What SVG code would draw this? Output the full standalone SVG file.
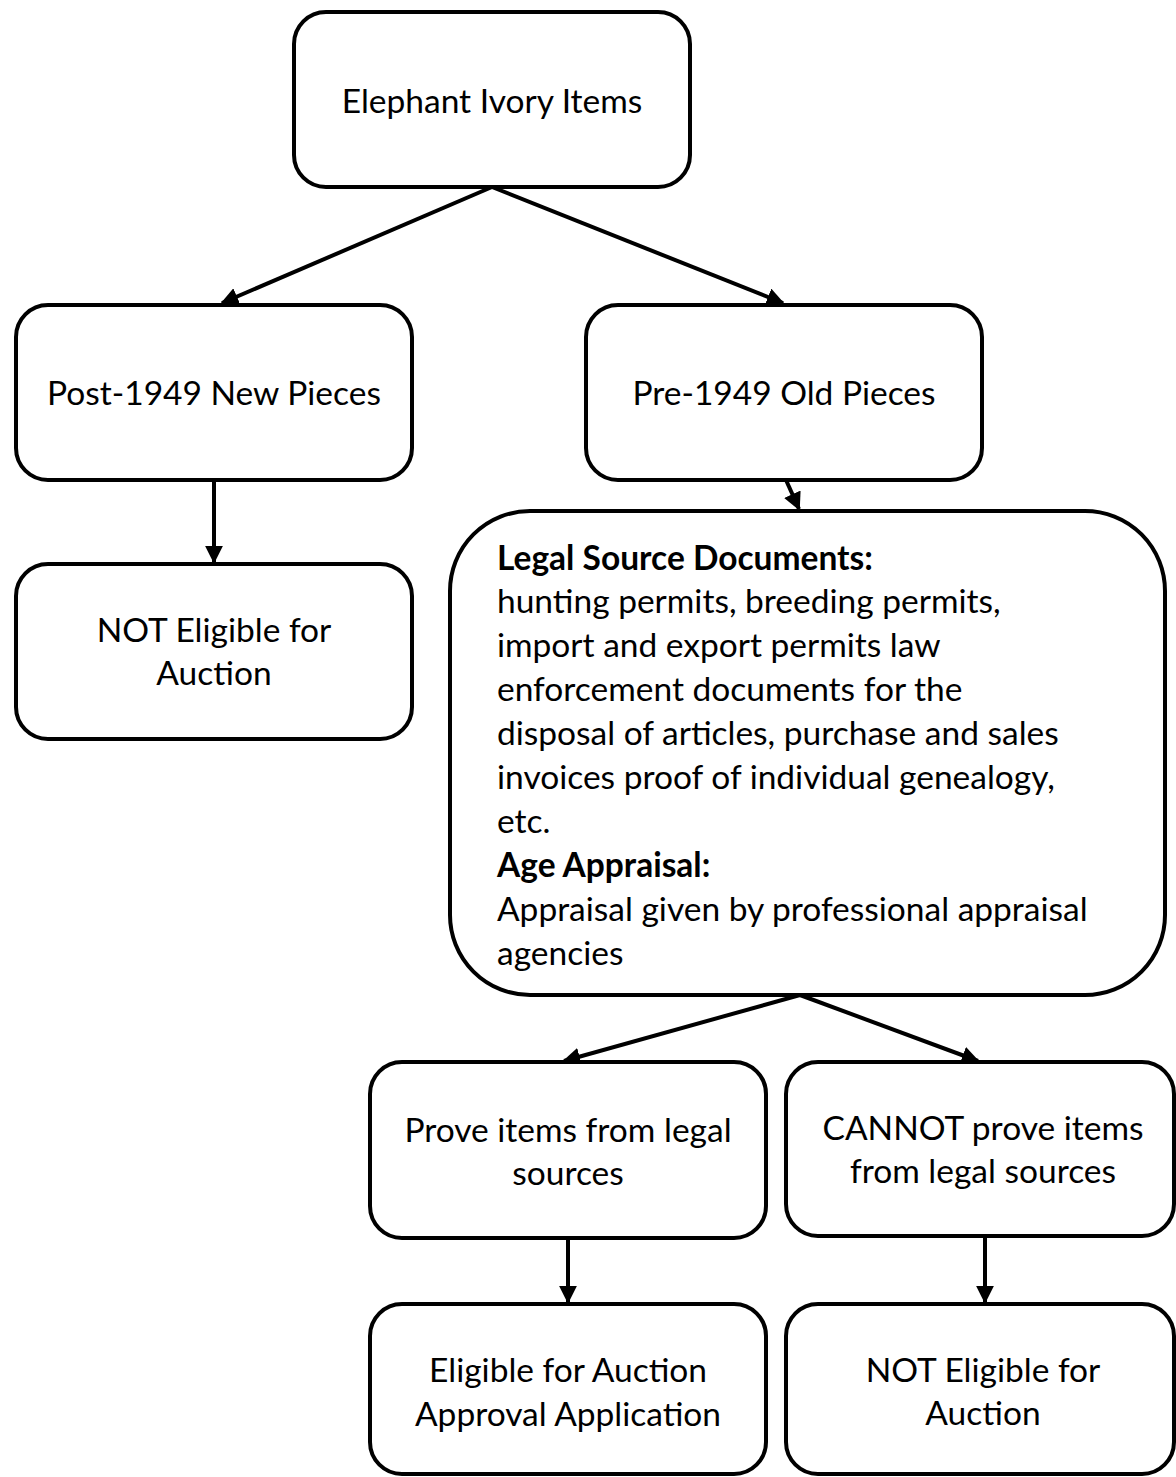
<svg xmlns="http://www.w3.org/2000/svg" width="1176" height="1477" viewBox="0 0 1176 1477">
<style>
.box{fill:#fff;stroke:#000;stroke-width:4}
.t{font-family:Lato,"Open Sans","Liberation Sans",sans-serif;font-size:33.5px;fill:#000}
.c{text-anchor:middle}
.b{font-weight:bold}
.ln{stroke:#000;stroke-width:4;fill:none}
</style>
<defs>
<marker id="ah" viewBox="0 0 10 10" refX="9" refY="5" markerWidth="4.5" markerHeight="4.5" orient="auto" markerUnits="strokeWidth">
<path d="M0,0 L10,5 L0,10 z" fill="#000"/>
</marker>
</defs>
<rect width="1176" height="1477" fill="#fff"/>
<g id="connectors">
<line class="ln" x1="492" y1="187" x2="222" y2="303" marker-end="url(#ah)"/>
<line class="ln" x1="492" y1="187" x2="783" y2="303" marker-end="url(#ah)"/>
<line class="ln" x1="214" y1="480" x2="214" y2="562" marker-end="url(#ah)"/>
<line class="ln" x1="786" y1="480" x2="799" y2="509" marker-end="url(#ah)"/>
<line class="ln" x1="800" y1="995" x2="564" y2="1061" marker-end="url(#ah)"/>
<line class="ln" x1="800" y1="995" x2="978" y2="1061" marker-end="url(#ah)"/>
<line class="ln" x1="568" y1="1238" x2="568" y2="1302" marker-end="url(#ah)"/>
<line class="ln" x1="985" y1="1238" x2="985" y2="1302" marker-end="url(#ah)"/>
</g>
<g id="n1"><rect class="box" x="294" y="12" width="396" height="175" rx="32"/><text class="t c" x="492" y="113">Elephant Ivory Items</text></g>
<g id="n2"><rect class="box" x="16" y="305" width="396" height="175" rx="32"/><text class="t c" x="214" y="405">Post-1949 New Pieces</text></g>
<g id="n3"><rect class="box" x="586" y="305" width="396" height="175" rx="32"/><text class="t c" x="784" y="405">Pre-1949 Old Pieces</text></g>
<g id="n4"><rect class="box" x="16" y="564" width="396" height="175" rx="32"/><text class="t c" x="214" y="642">NOT Eligible for</text><text class="t c" x="214" y="685">Auction</text></g>
<g id="n5"><rect class="box" x="450" y="511" width="715" height="484" rx="80"/>
<text class="t b" x="497" y="570">Legal Source Documents:</text>
<text class="t" x="497" y="613">hunting permits, breeding permits,</text>
<text class="t" x="497" y="657">import and export permits law</text>
<text class="t" x="497" y="701">enforcement documents for the</text>
<text class="t" x="497" y="745">disposal of articles, purchase and sales</text>
<text class="t" x="497" y="789">invoices proof of individual genealogy,</text>
<text class="t" x="497" y="833">etc.</text>
<text class="t b" x="497" y="877">Age Appraisal:</text>
<text class="t" x="497" y="921">Appraisal given by professional appraisal</text>
<text class="t" x="497" y="965">agencies</text>
</g>
<g id="n6"><rect class="box" x="370" y="1062" width="396" height="176" rx="32"/><text class="t c" x="568" y="1142">Prove items from legal</text><text class="t c" x="568" y="1185">sources</text></g>
<g id="n7"><rect class="box" x="786" y="1062" width="388" height="174" rx="32"/><text class="t c" x="983" y="1140">CANNOT prove items</text><text class="t c" x="983" y="1183">from legal sources</text></g>
<g id="n8"><rect class="box" x="370" y="1304" width="396" height="170" rx="32"/><text class="t c" x="568" y="1382">Eligible for Auction</text><text class="t c" x="568" y="1426">Approval Application</text></g>
<g id="n9"><rect class="box" x="786" y="1304" width="388" height="170" rx="32"/><text class="t c" x="983" y="1382">NOT Eligible for</text><text class="t c" x="983" y="1425">Auction</text></g>
</svg>
